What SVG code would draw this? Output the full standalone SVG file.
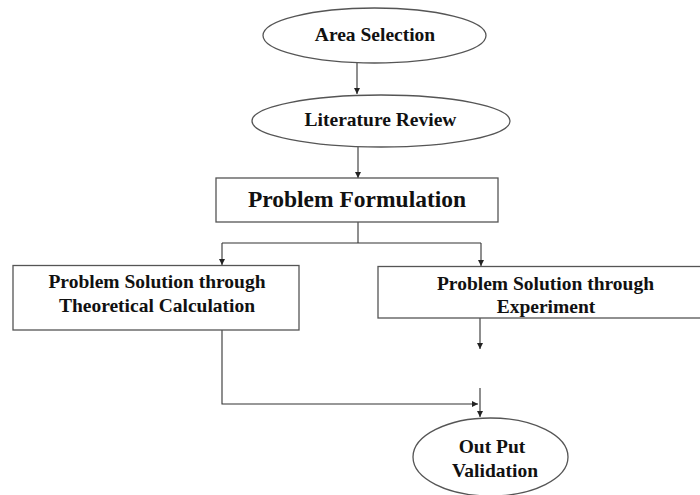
<svg xmlns="http://www.w3.org/2000/svg" width="700" height="495" viewBox="0 0 700 495">
<style>
.shape{fill:#fff;stroke:#555;stroke-width:1.3}
.t{font-family:"Liberation Serif","Times New Roman",serif;font-weight:bold;font-size:19.5px;fill:#111;text-anchor:middle}
.big{font-size:23.5px}
.line{fill:none;stroke:#333;stroke-width:1.1}
</style>
<defs>
<marker id="ah" markerWidth="8" markerHeight="8" refX="6" refY="3" orient="auto" markerUnits="userSpaceOnUse">
<path d="M0,0 L6,3 L0,6 Z" fill="#222"/>
</marker>
</defs>
<rect width="700" height="495" fill="#fff"/>
<g id="connectors">
<path class="line" d="M357,63 V94" marker-end="url(#ah)"/>
<path class="line" d="M358,147 V178" marker-end="url(#ah)"/>
<path class="line" d="M358,222 V243"/>
<path class="line" d="M222,243 H481"/>
<path class="line" d="M222,243 V265" marker-end="url(#ah)"/>
<path class="line" d="M481,243 V266" marker-end="url(#ah)"/>
<path class="line" d="M480,318 V349" marker-end="url(#ah)"/>
<path class="line" d="M480,388 V417" marker-end="url(#ah)"/>
<path class="line" d="M222,330 V404 H478" marker-end="url(#ah)"/>
</g>
<g id="area-selection">
<ellipse class="shape" cx="374.5" cy="35.5" rx="111.5" ry="27.5"/>
<text class="t" x="375" y="41">Area Selection</text>
</g>
<g id="literature-review">
<ellipse class="shape" cx="381" cy="121" rx="129" ry="26"/>
<text class="t" x="380.5" y="126">Literature Review</text>
</g>
<g id="problem-formulation">
<rect class="shape" x="216" y="178" width="282" height="44"/>
<text class="t big" x="357" y="207">Problem Formulation</text>
</g>
<g id="theoretical">
<rect class="shape" x="13" y="265.5" width="286" height="64.5"/>
<text class="t" x="157" y="288">Problem Solution through</text>
<text class="t" x="157" y="312">Theoretical Calculation</text>
</g>
<g id="experiment">
<rect class="shape" x="378" y="266.5" width="340" height="51.5"/>
<text class="t" x="545.5" y="290">Problem Solution through</text>
<text class="t" x="546" y="313">Experiment</text>
</g>
<g id="output-validation">
<ellipse class="shape" cx="490.5" cy="457" rx="77.5" ry="39"/>
<text class="t" x="492" y="453">Out Put</text>
<text class="t" x="495" y="477">Validation</text>
</g>
</svg>
